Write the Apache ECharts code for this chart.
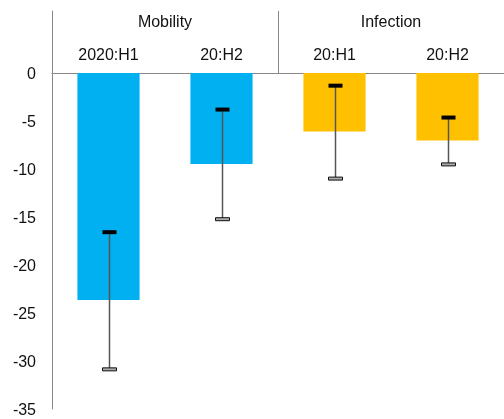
<!DOCTYPE html>
<html>
<head>
<meta charset="utf-8">
<script src="https://cdn.jsdelivr.net/npm/echarts@6/dist/echarts.min.js"></script>
<style>html,body{margin:0;padding:0;background:#fff}#c{width:504px;height:419px}</style>
</head>
<body>
<div id="c"></div>
<script>
const categories = ['2020:H1', '20:H2', '20:H1', '20:H2'];
const groups = ['Mobility', 'Infection'];
const categoryGroup = [0, 0, 1, 1];
const groupColors = ['#00B0F0', '#FFC000'];
const barValues = [-23.65, -9.48, -6.09, -7.03];
const errUpper = [-16.58, -3.81, -1.32, -4.64];
const errLower = [-30.87, -15.23, -11.0, -9.52];
const yMin = -35, yMax = 0, yStep = 5;

const font = 'Liberation Sans, Arial, sans-serif';
const axisColor = '#888888';

const chart = echarts.init(document.getElementById('c'), null, {renderer: 'canvas'});
chart.setOption({
  animation: false,
  backgroundColor: '#fff',
  grid: [
    {left: 52, right: 0, top: 73, bottom: 9},
    {left: 52, right: 0, top: 11, height: 62}
  ],
  xAxis: [
    {
      type: 'category', gridIndex: 0, position: 'top', data: categories,
      axisLine: {show: true, onZero: false, lineStyle: {color: axisColor, width: 1}},
      axisTick: {show: false},
      axisLabel: {margin: 9, color: '#111', fontSize: 16, fontFamily: font},
      splitLine: {show: false}
    },
    {
      type: 'category', gridIndex: 1, position: 'top', data: groups,
      axisLine: {show: false},
      axisTick: {show: false},
      axisLabel: {inside: true, margin: 4, color: '#111', fontSize: 16, fontFamily: font, verticalAlign: 'top'},
      splitLine: {show: true, lineStyle: {color: axisColor, width: 1}}
    }
  ],
  yAxis: [
    {
      type: 'value', gridIndex: 0, min: yMin, max: yMax, interval: yStep,
      axisLine: {show: true, lineStyle: {color: axisColor, width: 1}},
      axisTick: {show: false},
      splitLine: {show: false},
      axisLabel: {
        margin: 16, color: '#111', fontSize: 16, fontFamily: font,
        formatter: '{a|{value}}',
        rich: {a: {fontSize: 16, fontFamily: font, color: '#111', padding: [4, 0, 0, 0]}}
      }
    },
    {
      type: 'value', gridIndex: 1, min: 0, max: 1,
      axisLine: {show: true, lineStyle: {color: axisColor, width: 1}},
      axisTick: {show: false}, axisLabel: {show: false}, splitLine: {show: false}
    }
  ],
  series: [
    {
      type: 'bar', xAxisIndex: 0, yAxisIndex: 0, barWidth: '55%',
      data: barValues.map((v, i) => ({value: v, itemStyle: {color: groupColors[categoryGroup[i]]}}))
    },
    {
      type: 'custom', xAxisIndex: 0, yAxisIndex: 0, z: 5,
      encode: {x: 0, y: [1, 2]},
      data: categories.map((c, i) => [i, errUpper[i], errLower[i]]),
      renderItem: function (params, api) {
        const pHi = api.coord([api.value(0), api.value(1)]);
        const pLo = api.coord([api.value(0), api.value(2)]);
        const x = Math.round(pHi[0]) + 0.5;
        const capW = 14;
        return {
          type: 'group',
          children: [
            {type: 'line', shape: {x1: x, y1: pHi[1], x2: x, y2: pLo[1]}, style: {stroke: '#555', lineWidth: 1.5}},
            {type: 'rect', shape: {x: x - capW / 2, y: pHi[1] - 2, width: capW, height: 4}, style: {fill: '#000'}},
            {type: 'rect', shape: {x: x - capW / 2, y: pLo[1] - 1.5, width: capW, height: 3}, style: {fill: '#aaa', stroke: '#111', lineWidth: 1}}
          ]
        };
      }
    }
  ]
});
</script>
</body>
</html>
